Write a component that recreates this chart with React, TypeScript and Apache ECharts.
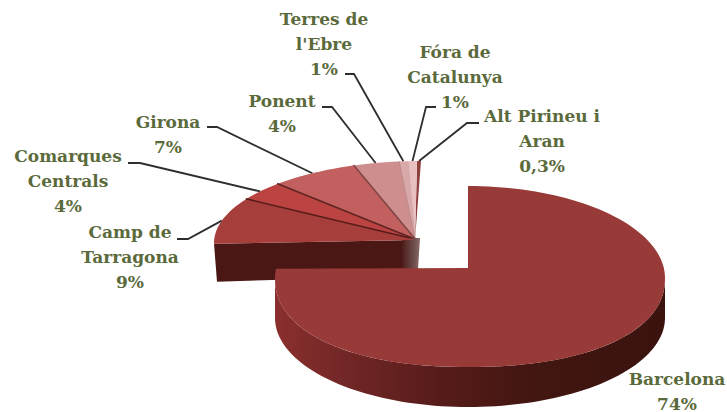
import React, { useEffect, useRef } from "react";
import * as echarts from "echarts";

const names = ["Barcelona", "Camp de\nTarragona", "Comarques\nCentrals", "Girona", "Ponent", "Terres de\nl'Ebre", "Fóra de\nCatalunya", "Alt Pirineu i\nAran"];
const shownPercent = ["74%", "9%", "4%", "7%", "4%", "1%", "1%", "0,3%"];
const values = [74.49, 9.0, 3.8, 6.9, 3.6, 0.7, 0.7, 0.3];

const topColors = ["#973a38", "#a63e3c", "#bb4442", "#c2605f", "#cf8e8e", "#d9a8a8", "#e9c0c0", "#8f3e3e"];
const separatorColors = ["", "", "#571c1a", "#5e2422", "#7e4442", "#b58a8a", "#c9a0a0", ""];
const separatorWidths = [0, 0, 3, 3, 3, 1.5, 1, 0];
const labelCentres = [[677, 391], [130, 257], [68, 181], [168, 134], [282, 113], [324, 44], [455, 77], [542, 141]];
const leaderElbows = [null, [[177, 239], [188, 239]], [[128, 163], [140, 163]], [[207, 127], [217, 127]], [[322, 107], [332, 107]], [[345, 74], [354, 74]], [[436, 107], [426, 107]], [[479, 123], [467, 123]]];

const WIDTH = 727;
const HEIGHT = 412;
const TEXT = "#5b6a3b";
const bigApex = [468, 268];
const big = { cx: 468, cy: 278, rxL: 193, rxR: 197, ryT: 92, ryB: 89, p: 2.2 };
const bigFoot = { ...big, p: 2 };
const bigDepth = 40;
const bigTilt = 276.2 / 270;
const small = { cx: 421, cy: 243, rxL: 207, rxR: 207, ryT: 82, ryB: 82, p: 2 };
const smallApex = [415, 240];

const total = values.reduce((s, v) => s + v, 0);
const angles: [number, number][] = [];
{
  let acc = 0;
  values.forEach((v) => {
    angles.push([(acc / total) * 360, ((acc + v) / total) * 360]);
    acc += v;
  });
}

function pt(deg: number, g: any, dy = 0) {
  const r = (deg * Math.PI) / 180;
  const s = Math.sin(r);
  const c = Math.cos(r);
  const e = c < 0 ? 2 / g.p : 1;
  const sx = Math.sign(s) * Math.pow(Math.abs(s), e);
  const sy = Math.sign(c) * Math.pow(Math.abs(c), e);
  return [g.cx + sx * (s >= 0 ? g.rxR : g.rxL), g.cy - sy * (c >= 0 ? g.ryT : g.ryB) + dy];
}

function arc(a0: number, a1: number, g: any, dy = 0) {
  const n = Math.max(2, Math.ceil(Math.abs(a1 - a0) / 2));
  const out: number[][] = [];
  for (let i = 0; i <= n; i++) out.push(pt(a0 + ((a1 - a0) * i) / n, g, dy));
  return out;
}

const grad = (x0: number, y0: number, x1: number, y1: number, stops: [number, string][]) =>
  new echarts.graphic.LinearGradient(x0, y0, x1, y1, stops.map(([offset, color]) => ({ offset, color })), true);

function renderItem(_: any, api: any) {
  const i = api.value(0) as number;
  const [a0, a1] = angles[i];
  const children: any[] = [];
  if (i === 0) {
    const front = arc(90, 270, big);
    const foot = arc(270, 90, bigFoot, bigDepth);
    children.push({
      type: "polygon",
      shape: { points: [...front, ...foot] },
      style: {
        fill: grad(275, 0, 665, 0, [
          [0, "#8a2f2e"],
          [0.2, "#6f2625"],
          [0.42, "#571c1a"],
          [0.65, "#431611"],
          [1, "#3a130f"],
        ]),
      },
    });
    children.push({
      type: "polygon",
      shape: { points: [bigApex, ...arc(a0 * bigTilt, a1 * bigTilt, big)] },
      style: { fill: topColors[i] },
    });
  } else {
    if (i === 1) {
      const s = pt(a0, small);
      children.push({
        type: "polygon",
        shape: { points: [s, smallApex, [smallApex[0], smallApex[1] + 36], [s[0] + 3, s[1] + 38]] },
        style: { fill: "#4b1714" },
      });
      children.push({
        type: "polygon",
        shape: { points: [[402, 238], [420, 238], [418, 269], [402, 269]] },
        style: { fill: grad(402, 0, 420, 0, [[0, "#4b1c19"], [0.6, "#6a4a48"], [1, "#8a6a68"]]) },
      });
    }
    children.push({
      type: "polygon",
      shape: { points: [smallApex, ...arc(a0, a1, small)] },
      style: { fill: topColors[i] },
    });
    if (separatorWidths[i] > 0) {
      const e = pt(a0, small);
      children.push({
        type: "line",
        shape: { x1: smallApex[0], y1: smallApex[1], x2: e[0], y2: e[1] },
        style: { stroke: separatorColors[i], lineWidth: separatorWidths[i] },
      });
    }
  }
  return { type: "group", children };
}

// Back slices first, Barcelona last, as it covers the foot of the others.
const drawOrder = [7, 6, 5, 4, 3, 2, 1, 0];

export default function App() {
  const ref = useRef<HTMLDivElement>(null);
  useEffect(() => {
    const chart = echarts.init(ref.current!, undefined, { renderer: "svg" });
    const elements: any[] = [];
    names.forEach((name, i) => {
      const elbow = leaderElbows[i];
      if (elbow) {
        const mid = pt((angles[i][0] + angles[i][1]) / 2, small);
        elements.push({
          type: "polyline",
          shape: { points: [...elbow, mid] },
          style: { stroke: "#2e2e2e", lineWidth: 1.8, fill: "none" },
        });
      }
      elements.push({
        type: "text",
        x: labelCentres[i][0],
        y: labelCentres[i][1],
        style: {
          text: `${name}\n${shownPercent[i]}`,
          fill: TEXT,
          font: 'bold 17px "DejaVu Serif"',
          align: "center",
          verticalAlign: "middle",
          lineHeight: 25,
        },
      });
    });
    chart.setOption({
      animation: false,
      backgroundColor: "#ffffff",
      series: [
        {
          type: "custom",
          coordinateSystem: "none",
          renderItem,
          silent: true,
          data: drawOrder.map((i) => [i, values[i]]),
        },
      ],
      graphic: { elements },
    });
    return () => chart.dispose();
  }, []);
  return <div ref={ref} style={{ position: "fixed", left: 0, top: 0, width: WIDTH, height: HEIGHT }} />;
}
